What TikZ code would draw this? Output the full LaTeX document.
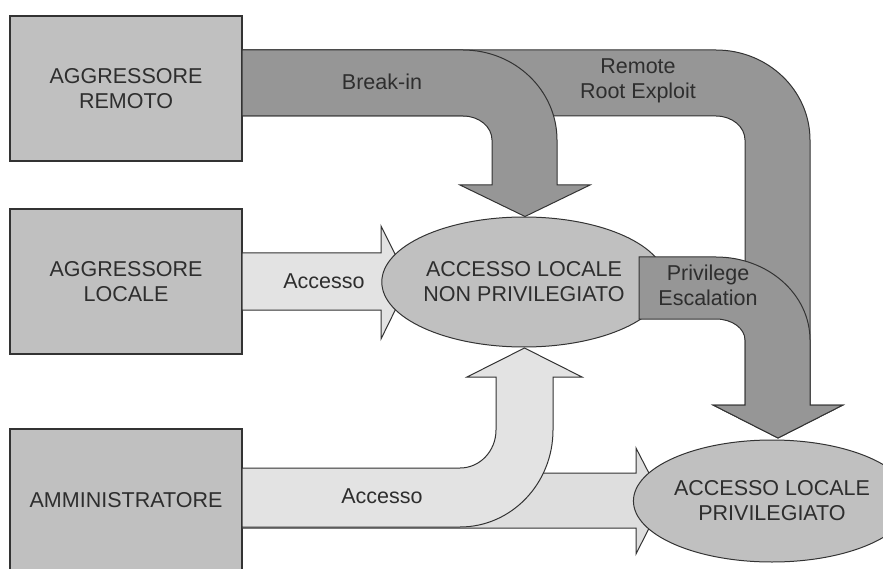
\documentclass[tikz,border=0pt]{standalone}
\usepackage{fontspec}
\setmainfont{Liberation Sans}
\usetikzlibrary{shapes.geometric}
\definecolor{boxgray}{HTML}{C0C0C0}
\definecolor{darkarrow}{HTML}{969696}
\definecolor{lightarrow}{HTML}{E3E3E3}
\definecolor{lightarrowb}{HTML}{DEDEDE}
\definecolor{outline}{HTML}{333333}
\definecolor{txt}{HTML}{2E2E2E}
\tikzset{
  actorbox/.style={draw=outline, line width=1.2pt, fill=boxgray, minimum width=232pt, inner sep=0pt, align=center, text=txt, font=\fontsize{21.5}{25}\selectfont},
  statenode/.style={ellipse, draw=outline, line width=1pt, fill=boxgray, inner sep=0pt, align=center, text=txt, font=\fontsize{21.5}{25}\selectfont},
  fatdark/.style={draw=outline, line width=1pt, fill=darkarrow, line join=miter},
  fatlight/.style={draw=outline, line width=1pt, fill=lightarrow, line join=miter},
  fatlightb/.style={draw=outline, line width=1pt, fill=lightarrowb, line join=miter},
  lbl/.style={inner sep=0pt, align=center, text=txt, font=\fontsize{21.5}{25}\selectfont}
}
\begin{document}
\begin{tikzpicture}[x=1pt,y=-1pt]
\useasboundingbox (0,0) rectangle (883,569);
\fill[white] (0,0) rectangle (883,569);

% actor boxes
\node[actorbox, minimum height=145pt] (remote) at (126,88.5) {AGGRESSORE\\REMOTO};
\node[actorbox, minimum height=145pt] (local) at (126,281.5) {AGGRESSORE\\LOCALE};
\node[actorbox, minimum height=142pt] (admin) at (126,500) {AMMINISTRATORE};

% Remote Root Exploit band
\draw[fatdark] (242,50) -- (716,50)
  .. controls (767.9,50) and (810,90.3) .. (810,140)
  -- (810,405) -- (843,405) -- (778,438) -- (713,405) -- (745,405) -- (745,140)
  .. controls (745,126.7) and (732,116) .. (716,116)
  -- (242,116) -- cycle;

% Break-in arrow
\draw[fatdark] (242,50) -- (463,50)
  .. controls (514.9,50) and (557,90.3) .. (557,140)
  -- (557,185) -- (590,185) -- (525,216.5) -- (460,185) -- (492,185) -- (492,140)
  .. controls (492,126.7) and (479,116) .. (463,116)
  -- (242,116) -- cycle;

% Local access arrow
\draw[fatlight] (242,253) -- (381,253) -- (381,226) -- (409,282) -- (381,339) -- (381,310) -- (242,310) -- cycle;

% non-privileged local access
\node[statenode, minimum width=228pt, minimum height=130pt] (nonpriv) at (524,282) {ACCESSO LOCALE\\NON PRIVILEGIATO};

% Privilege escalation arrow
\draw[fatdark] (639,257) -- (716,257)
  .. controls (767.9,257) and (810,294.2) .. (810,340)
  -- (810,405) -- (843,405) -- (778,438) -- (713,405) -- (745,405) -- (745,340)
  .. controls (745,328.4) and (732,319) .. (716,319)
  -- (639,319) -- cycle;

% Admin straight arrow
\draw[fatlightb] (242,473) -- (636,473) -- (636,448) -- (663,500.5) -- (636,554) -- (636,528) -- (242,528) -- cycle;

% Admin up arrow
\draw[fatlight] (242,468) -- (460,468)
  .. controls (479.9,468) and (496,451) .. (496,430)
  -- (496,377) -- (467,377) -- (524.5,348) -- (582,377) -- (553,377) -- (553,430)
  .. controls (553,483.6) and (511.4,527) .. (460,527)
  -- (242,527) -- cycle;

% privileged local access
\node[statenode, minimum width=220pt, minimum height=122pt] (priv) at (772,501) {ACCESSO LOCALE\\PRIVILEGIATO};

% arrow labels
\node[lbl] (lbreak) at (382,82) {Break-in};
\node[lbl] (lroot) at (638,81) {Remote\\Root Exploit};
\node[lbl] (lpriv) at (708,285.5) {Privilege\\Escalation};
\node[lbl] (lacc1) at (324,281) {Accesso};
\node[lbl] (lacc2) at (382,496) {Accesso};
\end{tikzpicture}
\end{document}
